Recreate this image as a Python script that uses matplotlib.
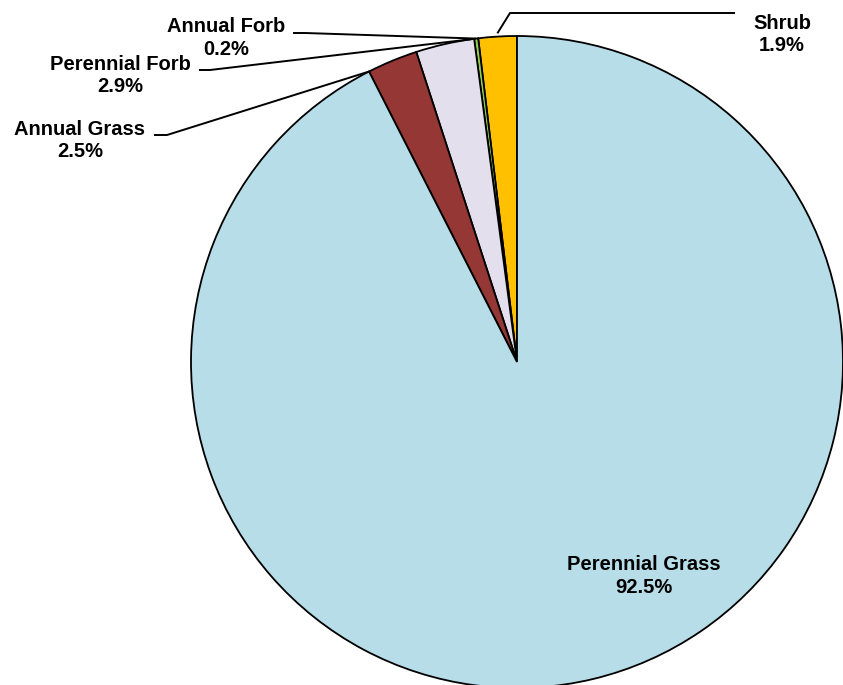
import matplotlib
matplotlib.use("Agg")
import matplotlib.pyplot as plt
import numpy as np

# vegetation composition by functional group (percent cover)
groups = ["Shrub", "Annual Forb", "Perennial Forb", "Annual Grass", "Perennial Grass"]
shares = [1.9, 0.2, 2.9, 2.5, 92.5]
colors = ["#FFC000", "#92D050", "#E4DFEC", "#953735", "#B7DDE8"]

W, H = 843, 685
plt.rcParams["font.family"] = ["Liberation Sans", "DejaVu Sans"]

fig = plt.figure(figsize=(W / 100, H / 100), dpi=100)
ax = fig.add_axes([0, 0, 1, 1])

cx, cy, r = 517, H - 362, 326
wedges, _ = ax.pie(shares, colors=colors, startangle=90, counterclock=True,
                   radius=r, center=(cx, cy),
                   wedgeprops=dict(edgecolor="black", linewidth=1.3))
ax.set_xlim(0, W)
ax.set_ylim(0, H)
ax.set_aspect("equal")
ax.axis("off")

# label block centres (pixel coords from the top-left corner)
label_pos = {
    "Shrub": (782, 34.5),
    "Annual Forb": (226, 38),
    "Perennial Forb": (120, 75.5),
    "Annual Grass": (80, 140.5),
    "Perennial Grass": (644, 576),
}
# start of each leader line and its elbow, plus where along the wedge it lands
leaders = {
    "Shrub": ([(735, 13), (510, 13)], 0.5, 1.01),
    "Annual Forb": ([(293, 33), (305, 33)], 0.5, 1.0),
    "Perennial Forb": ([(199, 70), (210, 70)], 0.05, 1.0),
    "Annual Grass": ([(154, 135), (167, 135)], 1.0, 1.0),
}

for name, val, w in zip(groups, shares, wedges):
    x, y = label_pos[name]
    ax.text(x, H - y, f"{name}\n{val:.1f}%", ha="center", va="center",
            fontsize=14.5, fontweight="bold", linespacing=1.25)
    if name in leaders:
        pts, frac, rf = leaders[name]
        ang = np.radians(w.theta1 + frac * (w.theta2 - w.theta1))
        ax_pt = (cx + r * rf * np.cos(ang), cy + r * rf * np.sin(ang))
        xs = [p[0] for p in pts] + [ax_pt[0]]
        ys = [H - p[1] for p in pts] + [ax_pt[1]]
        ax.plot(xs, ys, color="black", linewidth=1.4, solid_capstyle="butt")

fig.savefig("out.png", dpi=100)
